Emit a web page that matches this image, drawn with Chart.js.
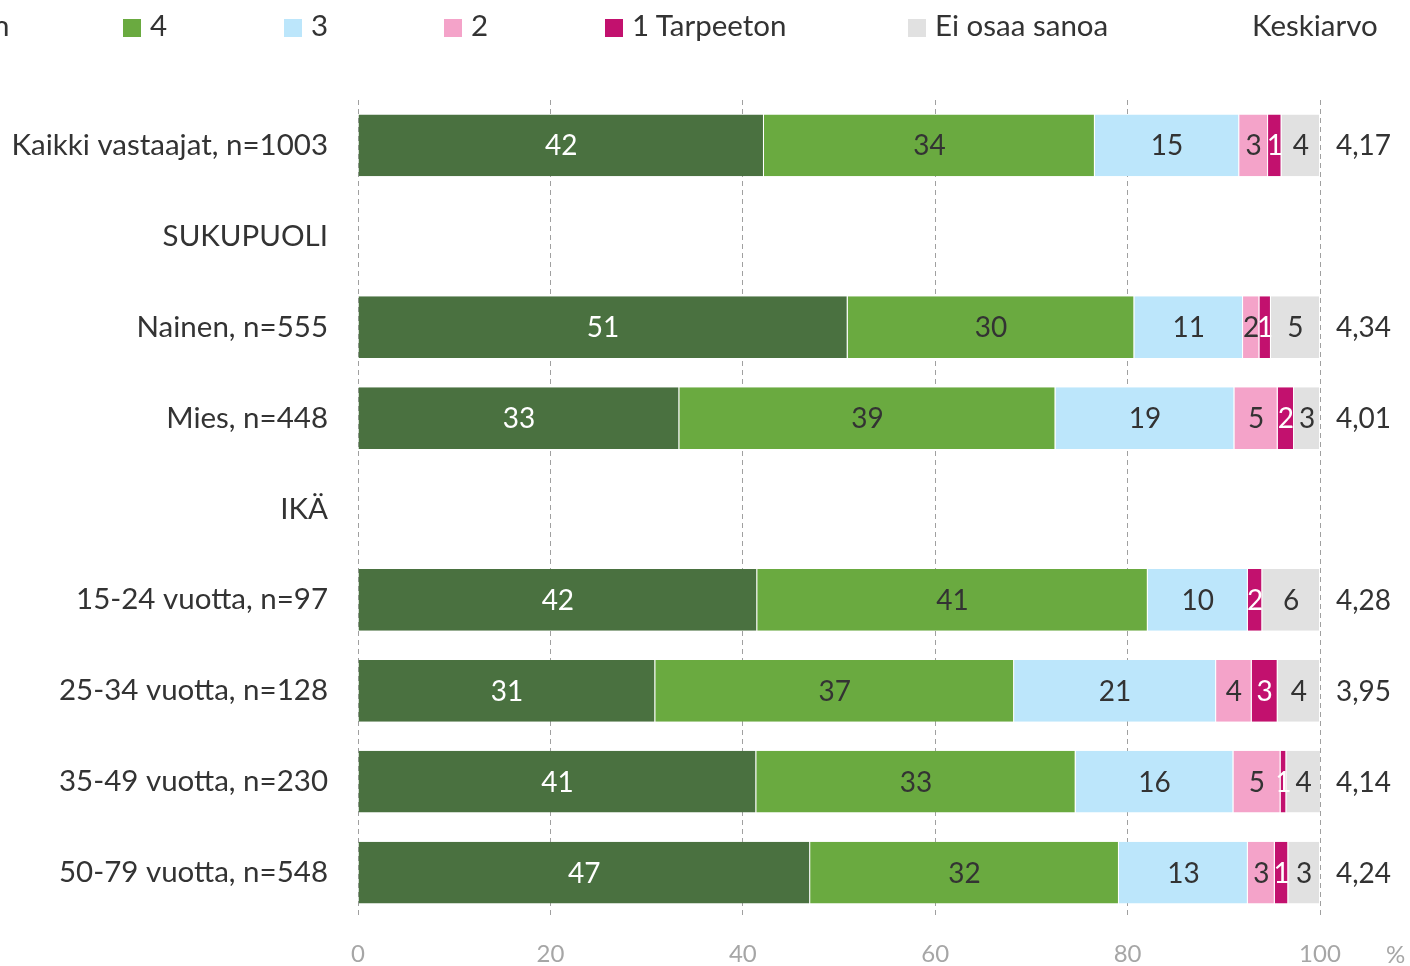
<!DOCTYPE html>
<html>
<head>
<meta charset="utf-8">
<script src="https://cdn.jsdelivr.net/npm/chart.js@4.4.0/dist/chart.umd.min.js"></script>
<style>
  html, body { margin: 0; padding: 0; background: #fff; }
  #wrap { position: relative; width: 1410px; height: 966px; overflow: hidden; font-family: Lato, "Open Sans", sans-serif; }
  #chart { position: absolute; left: 0; top: 0; }
  .lg { position: absolute; top: 8px; font-size: 29.5px; color: #333; white-space: nowrap; line-height: 34px; }
  .lg i { display: inline-block; width: 18px; height: 18px; margin-right: 9px; vertical-align: -1px; }
</style>
</head>
<body>
<div id="wrap">
  <canvas id="chart" width="1410" height="966"></canvas>
  <div class="lg" style="left:-198px"><i style="background:#4a7140"></i>5 Välttämätön</div>
  <div class="lg" style="left:123px"><i style="background:#6aaa40"></i>4</div>
  <div class="lg" style="left:284px"><i style="background:#bce6fb"></i>3</div>
  <div class="lg" style="left:444px"><i style="background:#f4a3c9"></i>2</div>
  <div class="lg" style="left:605px"><i style="background:#c2116e"></i>1 Tarpeeton</div>
  <div class="lg" style="left:908px"><i style="background:#e1e1e1"></i>Ei osaa sanoa</div>
  <div class="lg" style="left:1252px">Keskiarvo</div>
</div>
<script>
// kategoriat (väliotsikot ilman dataa)
const categories = [
  'Kaikki vastaajat, n=1003', 'SUKUPUOLI', 'Nainen, n=555', 'Mies, n=448', 'IKÄ',
  '15-24 vuotta, n=97', '25-34 vuotta, n=128', '35-49 vuotta, n=230', '50-79 vuotta, n=548'
];
const seriesNames = ['5 Välttämätön', '4', '3', '2', '1 Tarpeeton', 'Ei osaa sanoa'];
const s5   = [42.2, null, 50.9, 33.4, null, 41.5, 30.9, 41.4, 47.0];
const s4   = [34.4, null, 29.8, 39.1, null, 40.6, 37.3, 33.2, 32.1];
const s3   = [15.0, null, 11.3, 18.6, null, 10.4, 21.0, 16.4, 13.4];
const s2   = [3.0,  null, 1.7,  4.5,  null, 0,    3.7,  4.9,  2.8];
const s1   = [1.4,  null, 1.2,  1.7,  null, 1.5,  2.7,  0.6,  1.4];
const sEos = [4.0,  null, 5.1,  2.7,  null, 6.0,  4.4,  3.6,  3.3];
const averages = ['4,17', '', '4,34', '4,01', '', '4,28', '3,95', '4,14', '4,24'];
const xTicks = [0, 20, 40, 60, 80, 100];

const colors = ['#4a7140', '#6aaa40', '#bce6fb', '#f4a3c9', '#c2116e', '#e1e1e1'];
const labelColors = ['#fff', '#333', '#333', '#333', '#fff', '#333'];
const FONT = 'Lato, "Open Sans", sans-serif';

// arvot palkkien sisään
const valueLabels = {
  id: 'valueLabels',
  afterDatasetsDraw(chart) {
    const ctx = chart.ctx;
    ctx.save();
    ctx.font = '28px ' + FONT;
    ctx.textAlign = 'center';
    ctx.textBaseline = 'middle';
    chart.data.datasets.forEach((ds, di) => {
      const meta = chart.getDatasetMeta(di);
      meta.data.forEach((bar, i) => {
        const v = ds.data[i];
        if (v == null || v === 0) return;
        const { x, base, y } = bar.getProps(['x', 'base', 'y'], true);
        ctx.fillStyle = labelColors[di];
        ctx.fillText(Math.round(v), (x + base) / 2, y + 1);
      });
    });
    // keskiarvot
    const yScale = chart.scales.y;
    ctx.fillStyle = '#333';
    ctx.textAlign = 'left';
    averages.forEach((a, i) => {
      if (a) ctx.fillText(a, 1336, yScale.getPixelForValue(i) + 1);
    });
    // %-merkki
    ctx.font = '24px ' + FONT;
    ctx.fillStyle = '#a6a6a6';
    ctx.fillText('%', 1386, 955);
    ctx.restore();
  }
};

const sets = [s5, s4, s3, s2, s1, sEos];

new Chart(document.getElementById('chart'), {
  type: 'bar',
  data: {
    labels: categories,
    datasets: sets.map((d, i) => ({
      label: seriesNames[i],
      data: d,
      backgroundColor: colors[i],
      borderColor: 'rgba(255,255,255,0.6)',
      borderWidth: { left: 0, right: 1, top: 0, bottom: 0 },
      borderSkipped: false,
      categoryPercentage: 1,
      barPercentage: 0.68,
      stack: 'a'
    }))
  },
  plugins: [valueLabels],
  options: {
    indexAxis: 'y',
    responsive: false,
    animation: false,
    layout: { padding: { top: 100, right: 90, left: 0, bottom: 0 } },
    plugins: {
      legend: { display: false },
      tooltip: { enabled: false }
    },
    scales: {
      x: {
        stacked: true,
        min: 0,
        max: 100,
        afterBuildTicks: s => { s.ticks = xTicks.map(v => ({ value: v })); },
        afterFit: s => { s.height = 48; },
        grid: { color: '#a0a0a0', lineWidth: 1, drawTicks: false },
        border: { display: false, dash: [5, 4] },
        ticks: { color: '#a6a6a6', font: { family: FONT, size: 24 }, padding: 22 }
      },
      y: {
        stacked: true,
        afterFit: s => { s.width = 358; },
        grid: { display: false },
        border: { display: false },
        ticks: { color: '#333', font: { family: FONT, size: 29.5 }, padding: 22 }
      }
    }
  }
});
</script>
</body>
</html>
